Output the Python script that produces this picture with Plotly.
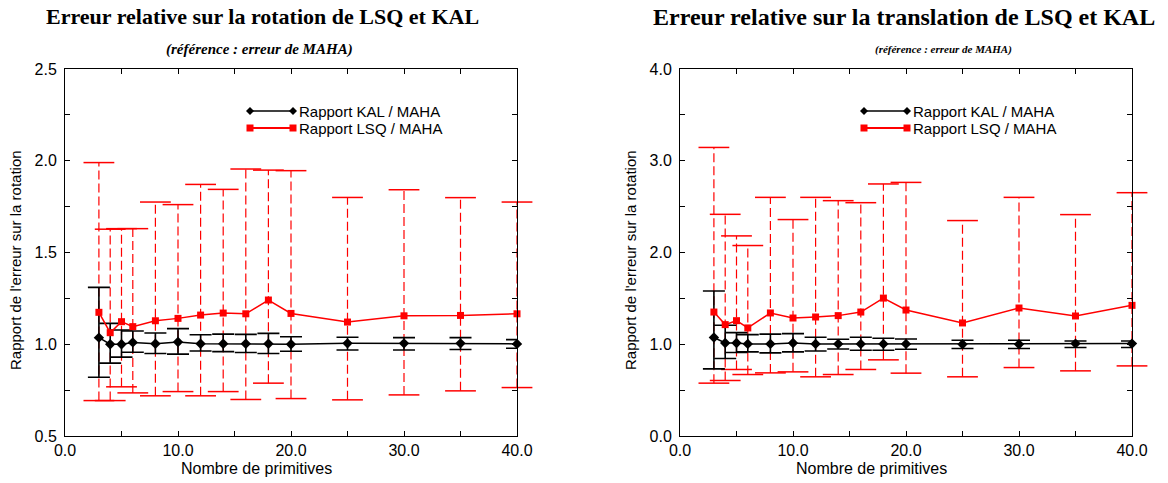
import plotly.graph_objects as go

# ---------------- data ----------------
n_prim = [3, 4, 5, 6, 8, 10, 12, 14, 16, 18, 20, 25, 30, 35, 40]

kal_rot = [1.036, 1.00, 1.00, 1.01, 1.003, 1.012, 1.003, 1.003, 1.003, 1.003, 1.00, 1.005, 1.005, 1.005, 1.002]
kal_rot_hi = [1.31, 1.114, 1.078, 1.072, 1.061, 1.085, 1.052, 1.055, 1.054, 1.059, 1.041, 1.038, 1.036, 1.036, 1.025]
kal_rot_lo = [0.82, 0.897, 0.93, 0.956, 0.95, 0.946, 0.963, 0.96, 0.955, 0.95, 0.962, 0.969, 0.969, 0.971, 0.978]
lsq_rot = [1.174, 1.063, 1.123, 1.096, 1.128, 1.141, 1.159, 1.17, 1.166, 1.241, 1.168, 1.121, 1.155, 1.157, 1.166]
lsq_rot_hi = [1.99, 1.627, 1.63, 1.63, 1.775, 1.761, 1.871, 1.844, 1.955, 1.949, 1.946, 1.80, 1.842, 1.799, 1.775]
lsq_rot_lo = [0.693, 0.693, 0.768, 0.735, 0.719, 0.742, 0.719, 0.742, 0.699, 0.788, 0.704, 0.697, 0.724, 0.746, 0.764]

kal_tr = [1.073, 1.014, 1.014, 1.004, 1.004, 1.014, 1.004, 1.004, 1.004, 1.004, 1.004, 1.0, 1.0, 1.007, 1.007]
kal_tr_hi = [1.58, 1.207, 1.127, 1.105, 1.11, 1.116, 1.076, 1.054, 1.076, 1.065, 1.058, 1.043, 1.043, 1.036, 1.036]
kal_tr_lo = [0.732, 0.844, 0.91, 0.917, 0.906, 0.917, 0.927, 0.949, 0.935, 0.935, 0.946, 0.953, 0.953, 0.964, 0.964]
lsq_tr = [1.351, 1.214, 1.257, 1.178, 1.341, 1.286, 1.297, 1.312, 1.351, 1.503, 1.373, 1.232, 1.395, 1.308, 1.424]
lsq_tr_hi = [3.145, 2.416, 2.181, 2.076, 2.601, 2.359, 2.601, 2.565, 2.543, 2.747, 2.764, 2.348, 2.601, 2.413, 2.652]
lsq_tr_lo = [0.576, 0.605, 0.725, 0.67, 0.688, 0.699, 0.645, 0.67, 0.725, 0.83, 0.685, 0.645, 0.746, 0.71, 0.764]

x_tickvals = [0, 5, 10, 15, 20, 25, 30, 35, 40]
x_ticktext = ["0.0", "", "10.0", "", "20.0", "", "30.0", "", "40.0"]
y1_tickvals = [0.5, 0.75, 1.0, 1.25, 1.5, 1.75, 2.0, 2.25, 2.5]
y1_ticktext = ["0.5", "", "1.0", "", "1.5", "", "2.0", "", "2.5"]
y2_tickvals = [0, 0.5, 1, 1.5, 2, 2.5, 3, 3.5, 4]
y2_ticktext = ["0.0", "", "1.0", "", "2.0", "", "3.0", "", "4.0"]

titles = ["Erreur relative sur la rotation de LSQ et KAL",
          "Erreur relative sur la translation de LSQ et KAL"]
subtitle = "(référence : erreur de MAHA)"
x_title = "Nombre de primitives"
y_title = "Rapport de l'erreur sur la rotation"
legend_names = ["Rapport KAL / MAHA", "Rapport LSQ / MAHA"]

# ---------------- layout geometry ----------------
W, H = 1168, 483
L, R, T, B = 65, 1132, 69, 436


def px(X):
    return (X - L) / (R - L)


def py(Y):
    return (B - Y) / (B - T)


SANS = "Liberation Sans, Arial, sans-serif"
SERIF = "Liberation Serif, Times New Roman, serif"

fig = go.Figure()


def add_panel(xa, ya, kal, kal_hi, kal_lo, lsq, lsq_hi, lsq_lo):
    # red dashed error bars
    xs, ys = [], []
    for xv, lo, hi in zip(n_prim, lsq_lo, lsq_hi):
        xs += [xv, xv, None]
        ys += [lo, hi, None]
    fig.add_trace(go.Scatter(x=xs, y=ys, mode="lines", xaxis=xa, yaxis=ya,
                             line=dict(color="#ff0000", width=1.2, dash="9px,4px"),
                             showlegend=False, hoverinfo="skip", cliponaxis=False))
    fig.add_trace(go.Scatter(x=n_prim + n_prim, y=lsq_hi + lsq_lo, mode="markers",
                             xaxis=xa, yaxis=ya,
                             marker=dict(symbol="line-ew", size=22,
                                         line=dict(color="#ff0000", width=1.5)),
                             showlegend=False, hoverinfo="skip", cliponaxis=False))
    # black error bars
    fig.add_trace(go.Scatter(x=n_prim, y=kal, mode="markers", xaxis=xa, yaxis=ya,
                             marker=dict(size=0.1, color="black", opacity=0),
                             error_y=dict(type="data", symmetric=False,
                                          array=[h - v for h, v in zip(kal_hi, kal)],
                                          arrayminus=[v - l for l, v in zip(kal_lo, kal)],
                                          color="black", thickness=1.6, width=11),
                             showlegend=False, hoverinfo="skip", cliponaxis=False))
    # red line
    fig.add_trace(go.Scatter(x=n_prim, y=lsq, mode="lines+markers", xaxis=xa, yaxis=ya,
                             line=dict(color="#ff0000", width=1.5),
                             marker=dict(symbol="square", size=7, color="#ff0000"),
                             showlegend=False, cliponaxis=False))
    # black line
    fig.add_trace(go.Scatter(x=n_prim, y=kal, mode="lines+markers", xaxis=xa, yaxis=ya,
                             line=dict(color="black", width=1.5),
                             marker=dict(symbol="diamond", size=8, color="black"),
                             showlegend=False, cliponaxis=False))


add_panel("x", "y", kal_rot, kal_rot_hi, kal_rot_lo, lsq_rot, lsq_rot_hi, lsq_rot_lo)
add_panel("x2", "y2", kal_tr, kal_tr_hi, kal_tr_lo, lsq_tr, lsq_tr_hi, lsq_tr_lo)

axis_common = dict(showline=True, linecolor="black", linewidth=1, mirror="allticks",
                   ticks="inside", ticklen=5, tickcolor="black", tickwidth=1,
                   showgrid=False, zeroline=False,
                   tickfont=dict(family=SANS, size=16, color="black"))

fig.update_layout(
    width=W, height=H,
    margin=dict(l=L, r=W - R, t=T, b=H - B),
    paper_bgcolor="white", plot_bgcolor="white",
    showlegend=False,
    xaxis=dict(domain=[0, px(517)], range=[0, 40], tickvals=x_tickvals,
               ticktext=x_ticktext, anchor="y", **axis_common),
    yaxis=dict(domain=[0, 1], range=[0.5, 2.5], tickvals=y1_tickvals,
               ticktext=y1_ticktext, anchor="x", ticklabelstandoff=4, **axis_common),
    xaxis2=dict(domain=[px(680), 1], range=[0, 40], tickvals=x_tickvals,
                ticktext=x_ticktext, anchor="y2", **axis_common),
    yaxis2=dict(domain=[0, 1], range=[0, 4], tickvals=y2_tickvals,
                ticktext=y2_ticktext, anchor="x2", ticklabelstandoff=4, **axis_common),
)

ann = []
shapes = []
panels = [dict(title_c=262, title_size=22, sub_c=259, sub_size=15, ytitle_x=15, xtitle_c=256, leg_x0=250),
          dict(title_c=904, title_size=24, sub_c=943, sub_size=11, ytitle_x=630, xtitle_c=871, leg_x0=864)]
for i, p in enumerate(panels):
    ann.append(dict(text="<b>%s</b>" % titles[i], x=px(p["title_c"]), y=py(17),
                    xref="paper", yref="paper", showarrow=False,
                    xanchor="center", yanchor="middle",
                    font=dict(family=SERIF, size=p["title_size"], color="black")))
    ann.append(dict(text="<b><i>%s</i></b>" % subtitle, x=px(p["sub_c"]), y=py(49),
                    xref="paper", yref="paper", showarrow=False,
                    xanchor="center", yanchor="middle",
                    font=dict(family=SERIF, size=p["sub_size"], color="black")))
    ann.append(dict(text=x_title, x=px(p["xtitle_c"]), y=py(468),
                    xref="paper", yref="paper", showarrow=False,
                    xanchor="center", yanchor="middle",
                    font=dict(family=SANS, size=16, color="black")))
    ann.append(dict(text=y_title, x=px(p["ytitle_x"]), y=py(260),
                    xref="paper", yref="paper", showarrow=False, textangle=-90,
                    xanchor="center", yanchor="middle",
                    font=dict(family=SANS, size=15, color="black")))
    # custom legend
    x0 = p["leg_x0"]
    x1 = x0 + 43
    for j, (yy, col, sym) in enumerate([(111, "black", "diamond"), (128, "#ff0000", "square")]):
        shapes.append(dict(type="line", xref="paper", yref="paper",
                           x0=px(x0), x1=px(x1), y0=py(yy), y1=py(yy),
                           line=dict(color=col, width=1.5 if j == 0 else 2)))
        for xm in (x0, x1):
            if sym == "diamond":
                shapes.append(dict(type="path", xref="paper", yref="paper",
                                   xsizemode="pixel", ysizemode="pixel",
                                   xanchor=px(xm), yanchor=py(yy),
                                   path="M -4 0 L 0 4 L 4 0 L 0 -4 Z",
                                   fillcolor=col, line=dict(width=0)))
            else:
                shapes.append(dict(type="rect", xref="paper", yref="paper",
                                   xsizemode="pixel", ysizemode="pixel",
                                   xanchor=px(xm), yanchor=py(yy),
                                   x0=-3.5, x1=3.5, y0=-3.5, y1=3.5,
                                   fillcolor=col, line=dict(width=0)))
        ann.append(dict(text=legend_names[j], x=px(x1 + 4), y=py(yy),
                        xref="paper", yref="paper", showarrow=False,
                        xanchor="left", yanchor="middle",
                        font=dict(family=SANS, size=15, color="black")))

fig.update_layout(annotations=ann, shapes=shapes)
fig.write_html("out.html", config={"displayModeBar": False},
               post_script="document.body.style.margin='0px';document.body.style.overflow='hidden';")
